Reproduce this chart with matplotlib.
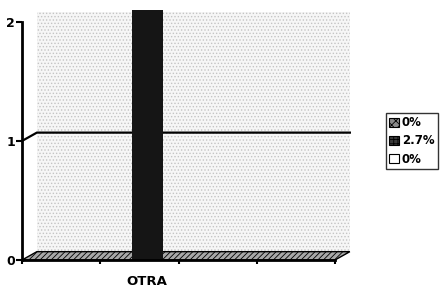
import matplotlib.pyplot as plt
from matplotlib.patches import Patch, Polygon, Rectangle

# chart data
categories = ['OTRA']
series_labels = ['0%', '2.7%', '0%']
series_values = [0, 2.7, 0]
y_ticks = [0, 1, 2]

plt.rcParams['font.family'] = ['DejaVu Sans']
plt.rcParams['font.weight'] = 'bold'
plt.rcParams['hatch.linewidth'] = 0.6

fig = plt.figure(figsize=(4.41, 2.9), dpi=100)
ax = fig.add_axes([22 / 441, 30 / 290, 313 / 441, 250 / 290])
ax.set_xlim(0, 4)
ax.set_ylim(0, 2.1)

# fake 3d depth offset
dx, dy = 0.19, 0.07

# speckled back wall
ax.add_patch(Rectangle((dx, dy), 4, 2.08 - dy, facecolor='#f6f6f6', hatch='.....',
                       edgecolor='#c4c4c4', lw=0, zorder=0, clip_on=False))

# gridline at 1 with its diagonal to the axis
ax.plot([0, dx, 4 + dx], [1, 1 + dy, 1 + dy], color='black', lw=1.6,
        zorder=1, clip_on=False)

# floor
ax.add_patch(Polygon([(0, 0), (4, 0), (4 + dx, dy), (dx, dy)], closed=True,
                     facecolor='#a8a8a8', hatch='//////', edgecolor='black',
                     lw=1, zorder=2, clip_on=False))

# bars: one group, three series
width = 0.4
center = 1.6
colors = ['#777777', '#151515', 'white']
for i, (val, col) in enumerate(zip(series_values, colors)):
    ax.bar(center + (i - 1) * width, val, width=width, color=col,
           lw=0, zorder=3)

# axes styling
for side in ['top', 'right']:
    ax.spines[side].set_visible(False)
ax.spines['left'].set_linewidth(2)
ax.spines['bottom'].set_linewidth(2)
ax.spines['left'].set_bounds(0, 2)
ax.spines['left'].set_zorder(5)
ax.spines['bottom'].set_zorder(5)

ax.set_yticks(y_ticks)
ax.set_yticklabels([str(t) for t in y_ticks], fontsize=9, fontweight='bold')
ax.tick_params(axis='y', length=4, width=1.5, pad=1)

ax.set_xticks([center])
ax.set_xticklabels(categories, fontsize=9.5, fontweight='bold')
ax.set_xticks([0, 1, 2, 3, 4], minor=True)
ax.tick_params(axis='x', which='major', length=0, pad=11)
ax.tick_params(axis='x', which='minor', length=3, width=1.5)

# legend
handles = [Patch(facecolor='#8a8a8a', hatch='xxxx', edgecolor='black', lw=0.8),
           Patch(facecolor='#3a3a3a', hatch='++++', edgecolor='black', lw=0.8),
           Patch(facecolor='white', edgecolor='black', lw=0.8)]
leg = fig.legend(handles, series_labels, loc='center',
                 bbox_to_anchor=(412 / 441, 1 - 141 / 290),
                 prop={'size': 8.5, 'weight': 'bold'}, fancybox=False,
                 frameon=True, edgecolor='black', handlelength=0.8,
                 handleheight=0.8, handletextpad=0.25, borderpad=0.3,
                 labelspacing=0.45, borderaxespad=0)
leg.get_frame().set_linewidth(1.0)

fig.savefig('out.png', dpi=100)
